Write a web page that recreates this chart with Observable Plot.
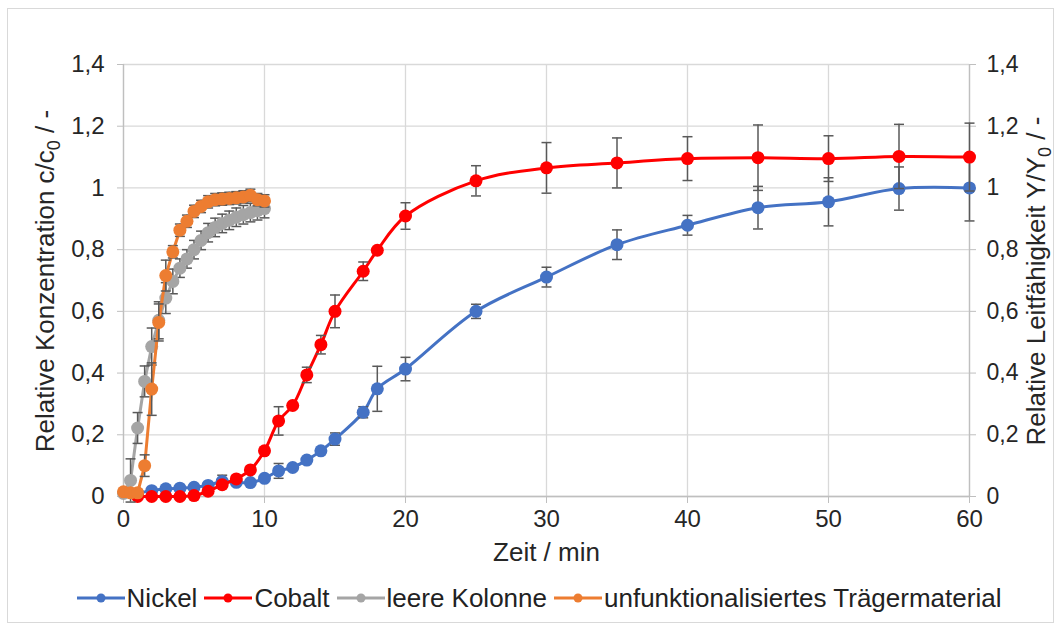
<!DOCTYPE html>
<html>
<head>
<meta charset="utf-8">
<script src="https://cdn.jsdelivr.net/npm/d3@7"></script>
<script src="https://cdn.jsdelivr.net/npm/@observablehq/plot@0.6"></script>
<style>
  body { margin: 0; background: #fff; font-family: "Liberation Sans", Arial, sans-serif; }
  #wrap { position: relative; width: 1061px; height: 631px; overflow: hidden; background: #fff; }
  #frame { position: absolute; left: 7px; top: 8px; width: 1047px; height: 615px; border: 1px solid #d9d9d9; box-sizing: border-box; pointer-events: none; }
  #chart { position: absolute; left: 0; top: 0; }
  #legend { position: absolute; left: 8px; width: 1061px; top: 583px; height: 30px; display: flex; justify-content: center; align-items: center; font-size: 26px; color: #222; white-space: nowrap; }
  .item { display: flex; align-items: center; margin: 0 3px; }
  .item svg { margin-right: 1px; }
</style>
</head>
<body>
<div id="wrap">
  <div id="chart"></div>
  <div id="legend"></div>
  <div id="frame"></div>
</div>
<script>
// ---- data ----
const xTicks = [0, 10, 20, 30, 40, 50, 60];
const yTicks = [0, 0.2, 0.4, 0.6, 0.8, 1, 1.2, 1.4];

const seriesNames = ["Nickel", "Cobalt", "leere Kolonne", "unfunktionalisiertes Trägermaterial"];
const seriesColors = ["#4472C4", "#FF0000", "#A5A5A5", "#ED7D31"];

const nickelT = [1, 2, 3, 4, 5, 6, 7, 8, 9, 10, 11, 12, 13, 14, 15, 17, 18, 20, 25, 30, 35, 40, 45, 50, 55, 60];
const nickelV = [0.01, 0.019, 0.025, 0.027, 0.03, 0.036, 0.049, 0.046, 0.045, 0.059, 0.083, 0.094, 0.118, 0.148, 0.186, 0.273, 0.349, 0.413, 0.6, 0.711, 0.816, 0.879, 0.936, 0.955, 0.998, 1.0];
const nickelE = [0, 0, 0, 0, 0, 0, 0.02, 0, 0, 0, 0.024, 0, 0, 0, 0.02, 0.018, 0.073, 0.038, 0.023, 0.032, 0.048, 0.032, 0.069, 0.078, 0.07, 0.107];

const cobaltT = [1, 2, 3, 4, 5, 6, 7, 8, 9, 10, 11, 12, 13, 14, 15, 17, 18, 20, 25, 30, 35, 40, 45, 50, 55, 60];
const cobaltV = [0, 0, 0, 0, 0.003, 0.017, 0.038, 0.057, 0.086, 0.148, 0.245, 0.295, 0.394, 0.492, 0.6, 0.73, 0.798, 0.909, 1.023, 1.065, 1.081, 1.095, 1.098, 1.095, 1.102, 1.1];
const cobaltE = [0, 0, 0, 0, 0, 0, 0, 0, 0, 0, 0.046, 0, 0.025, 0.03, 0.053, 0.03, 0, 0.043, 0.049, 0.082, 0.081, 0.071, 0.106, 0.074, 0.104, 0.11];

const leerT = [0, 0.5, 1, 1.5, 2, 2.5, 3, 3.5, 4, 4.5, 5, 5.5, 6, 6.5, 7, 7.5, 8, 8.5, 9, 9.5, 10];
const leerV = [0.01, 0.052, 0.222, 0.373, 0.486, 0.571, 0.643, 0.697, 0.74, 0.77, 0.8, 0.83, 0.855, 0.872, 0.885, 0.895, 0.905, 0.913, 0.92, 0.926, 0.933];
const leerE = [0, 0.07, 0.05, 0.05, 0.06, 0.06, 0.05, 0.04, 0.03, 0.03, 0.03, 0.03, 0.03, 0.03, 0.03, 0.03, 0.03, 0.03, 0.03, 0.03, 0.03];

const traegerT = [0, 0.5, 1, 1.5, 2, 2.5, 3, 3.5, 4, 4.5, 5, 5.5, 6, 6.5, 7, 7.5, 8, 8.5, 9, 9.5, 10];
const traegerV = [0.015, 0.012, 0.012, 0.1, 0.348, 0.564, 0.716, 0.793, 0.863, 0.892, 0.924, 0.94, 0.955, 0.962, 0.964, 0.966, 0.968, 0.971, 0.976, 0.962, 0.958];
const traegerE = [0, 0, 0, 0.035, 0.085, 0.06, 0.05, 0.02, 0.02, 0.02, 0.02, 0.02, 0.02, 0.02, 0.02, 0.02, 0.02, 0.02, 0.02, 0.02, 0.02];

// ---- build ----
const seriesData = [
  {t: nickelT, v: nickelV, e: nickelE, curve: "catmull-rom"},
  {t: cobaltT, v: cobaltV, e: cobaltE, curve: "catmull-rom"},
  {t: leerT, v: leerV, e: leerE, curve: "linear"},
  {t: traegerT, v: traegerV, e: traegerE, curve: "linear"}
];

const fmt = d => String(Math.round(d * 10) / 10).replace(".", ",");
const cap = { draw(context, size) { context.moveTo(-5, 0); context.lineTo(5, 0); } };
const errColor = "#595959";
const gridColor = "#d9d9d9";
const axisColor = "#bfbfbf";
const textColor = "#262626";
const fontFam = "'Liberation Sans', Arial, sans-serif";

const marks = [
  Plot.gridY(yTicks, {stroke: gridColor, strokeOpacity: 1, strokeWidth: 1.3}),
  Plot.gridX(xTicks, {stroke: gridColor, strokeOpacity: 1, strokeWidth: 1.3}),
  Plot.ruleX([0, 60], {stroke: axisColor, strokeWidth: 1.3}),
  Plot.ruleY([0], {stroke: axisColor, strokeWidth: 1.3}),
  Plot.axisY(yTicks, {anchor: "left", tickFormat: fmt, tickSize: 6, tickPadding: 13, stroke: axisColor, fill: textColor, fontSize: 24, label: null}),
  Plot.axisY(yTicks, {anchor: "right", tickFormat: fmt, tickSize: 6, tickPadding: 11, stroke: axisColor, fill: textColor, fontSize: 23, label: null}),
  Plot.axisX(xTicks, {anchor: "bottom", tickSize: 7, tickPadding: 6, stroke: axisColor, fill: textColor, fontSize: 24, label: null, tickFormat: d => String(d)})
];

seriesData.forEach((s, k) => {
  const rows = s.t.map((t, i) => ({t, v: s.v[i], e: s.e[i]}));
  const er = rows.filter(r => r.e > 0);
  const color = seriesColors[k];
  marks.push(Plot.line(rows, {x: "t", y: "v", stroke: color, strokeWidth: 3, curve: s.curve}));
  marks.push(Plot.ruleX(er, {x: "t", y1: r => r.v - r.e, y2: r => r.v + r.e, stroke: errColor, strokeWidth: 1.5}));
  marks.push(Plot.dot(er, {x: "t", y: r => r.v + r.e, symbol: cap, stroke: errColor, strokeWidth: 1.5, fill: "none", r: 5}));
  marks.push(Plot.dot(er, {x: "t", y: r => r.v - r.e, symbol: cap, stroke: errColor, strokeWidth: 1.5, fill: "none", r: 5}));
  marks.push(Plot.dot(rows, {x: "t", y: "v", r: 6.5, fill: color, stroke: "none"}));
});

marks.push(Plot.text(["Zeit / min"], {frameAnchor: "bottom", dy: 64, fontSize: 26, fill: textColor}));

const chart = Plot.plot({
  width: 1061,
  height: 580,
  marginLeft: 123,
  marginRight: 92,
  marginTop: 64,
  marginBottom: 84,
  style: {fontFamily: fontFam, background: "transparent", overflow: "visible"},
  x: {domain: [0, 60]},
  y: {domain: [0, 1.4]},
  marks
});
document.getElementById("chart").appendChild(chart);

// axis titles with subscripts
const svg = d3.select(chart);
function vtitle(x, parts) {
  const t = svg.append("text")
    .attr("transform", `translate(${x},281) rotate(-90)`)
    .attr("text-anchor", "middle")
    .attr("font-size", 26)
    .attr("fill", textColor)
    .attr("font-family", fontFam);
  t.append("tspan").text(parts[0]);
  t.append("tspan").attr("font-size", 18).attr("dy", 6).text(parts[1]);
  t.append("tspan").attr("dy", -6).text(parts[2]);
}
vtitle(54, ["Relative Konzentration c/c", "0", " / -"]);
vtitle(1045, ["Relative Leitfähigkeit Y/Y", "0", " / -"]);

// legend
const legend = document.getElementById("legend");
seriesNames.forEach((name, k) => {
  const item = document.createElement("div");
  item.className = "item";
  item.innerHTML = `<svg width="50" height="20"><line x1="1" x2="49" y1="10" y2="10" stroke="${seriesColors[k]}" stroke-width="3"/><circle cx="25" cy="10" r="4.5" fill="${seriesColors[k]}"/></svg><span>${name}</span>`;
  legend.appendChild(item);
});
</script>
</body>
</html>
